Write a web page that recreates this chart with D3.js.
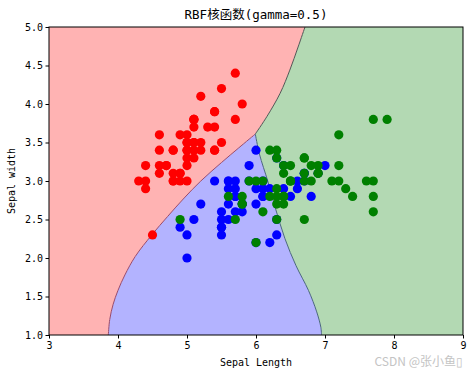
<!DOCTYPE html>
<html>
<head>
<meta charset="utf-8">
<script src="https://cdn.jsdelivr.net/npm/d3@7"></script>
<style>
  body { margin: 0; background: #fff; }
  svg text { font-family: "DejaVu Sans Mono", "Noto Sans CJK SC", monospace; }
</style>
</head>
<body>
<script>
// iris sepal length / width per class
const setosaX = [5.1,4.9,4.7,4.6,5.0,5.4,4.6,5.0,4.4,4.9,5.4,4.8,4.8,4.3,5.8,5.7,5.4,5.1,5.7,5.1,5.4,5.1,4.6,5.1,4.8,5.0,5.0,5.2,5.2,4.7,4.8,5.4,5.2,5.5,4.9,5.0,5.5,4.9,4.4,5.1,5.0,4.5,4.4,5.0,5.1,4.8,5.1,4.6,5.3,5.0];
const setosaY = [3.5,3.0,3.2,3.1,3.6,3.9,3.4,3.4,2.9,3.1,3.7,3.4,3.0,3.0,4.0,4.4,3.9,3.5,3.8,3.8,3.4,3.7,3.6,3.3,3.4,3.0,3.4,3.5,3.4,3.2,3.1,3.4,4.1,4.2,3.1,3.2,3.5,3.6,3.0,3.4,3.5,2.3,3.2,3.5,3.8,3.0,3.8,3.2,3.7,3.3];
const versiX = [7.0,6.4,6.9,5.5,6.5,5.7,6.3,4.9,6.6,5.2,5.0,5.9,6.0,6.1,5.6,6.7,5.6,5.8,6.2,5.6,5.9,6.1,6.3,6.1,6.4,6.6,6.8,6.7,6.0,5.7,5.5,5.5,5.8,6.0,5.4,6.0,6.7,6.3,5.6,5.5,5.5,6.1,5.8,5.0,5.6,5.7,5.7,6.2,5.1,5.7];
const versiY = [3.2,3.2,3.1,2.3,2.8,2.8,3.3,2.4,2.9,2.7,2.0,3.0,2.2,2.9,2.9,3.1,3.0,2.7,2.2,2.5,3.2,2.8,2.5,2.8,2.9,3.0,2.8,3.0,2.9,2.6,2.4,2.4,2.7,2.7,3.0,3.4,3.1,2.3,3.0,2.5,2.6,3.0,2.6,2.3,2.7,3.0,2.9,2.9,2.5,2.8];
const virgX = [6.3,5.8,7.1,6.3,6.5,7.6,4.9,7.3,6.7,7.2,6.5,6.4,6.8,5.7,5.8,6.4,6.5,7.7,7.7,6.0,6.9,5.6,7.7,6.3,6.7,7.2,6.2,6.1,6.4,7.2,7.4,7.9,6.4,6.3,6.1,7.7,6.3,6.4,6.0,6.9,6.7,6.9,5.8,6.8,6.7,6.7,6.3,6.5,6.2,5.9];
const virgY = [3.3,2.7,3.0,2.9,3.0,3.0,2.5,2.9,2.5,3.6,3.2,2.7,3.0,2.5,2.8,3.2,3.0,3.8,2.6,2.2,3.2,2.8,2.8,2.7,3.3,3.2,2.8,3.0,2.8,3.0,2.8,3.8,2.8,2.8,2.6,3.0,3.4,3.1,3.0,3.1,3.1,3.1,2.7,3.2,3.3,3.0,2.5,3.0,3.4,3.0];

// decision boundaries, [sepal length, sepal width]
const redBlueEdge = [[3.86,1.0],[3.88,1.2],[3.93,1.4],[4.0,1.58],[4.1,1.78],[4.25,2.02],[4.49,2.30],[4.72,2.54],[4.96,2.78],[5.2,3.0],[5.5,3.24],[5.75,3.43],[5.99,3.61]];
const redGreenEdge = [[5.99,3.61],[6.16,3.84],[6.35,4.14],[6.49,4.44],[6.61,4.74],[6.71,5.0]];
const blueGreenEdge = [[5.99,3.61],[6.05,3.35],[6.17,3.0],[6.28,2.65],[6.42,2.25],[6.58,1.9],[6.76,1.58],[6.88,1.3],[6.94,1.1],[6.95,1.0]];

const xTicks = [3,4,5,6,7,8,9];
const yTicks = [1.0,1.5,2.0,2.5,3.0,3.5,4.0,4.5,5.0];

const margin = {top: 27, right: 11, bottom: 41, left: 49};
const width = 474, height = 376;

const svg = d3.select("body").append("svg")
    .attr("width", width)
    .attr("height", height);

const x = d3.scaleLinear().domain([3, 9]).range([margin.left, width - margin.right]);
const y = d3.scaleLinear().domain([1, 5]).range([height - margin.bottom, margin.top]);

const curve = d3.line().x(d => x(d[0])).y(d => y(d[1])).curve(d3.curveCatmullRom);
const straight = d3.line().x(d => x(d[0])).y(d => y(d[1]));
const rev = a => a.slice().reverse();
// join several pieces into one path, continuing instead of moving
const join = parts => parts.map((p, i) => i ? p.replace(/^M/, "L") : p).join("") + "Z";

svg.append("defs").append("clipPath").attr("id", "plot")
  .append("rect")
    .attr("x", margin.left).attr("y", margin.top)
    .attr("width", width - margin.left - margin.right)
    .attr("height", height - margin.top - margin.bottom);

const plot = svg.append("g").attr("clip-path", "url(#plot)");

// regions
plot.append("path")
    .attr("d", join([straight([[3,1],[3,5]]), curve(rev(redGreenEdge)), curve(rev(redBlueEdge))]))
    .attr("fill", "#ffb3b3");
plot.append("path")
    .attr("d", join([curve(redBlueEdge), curve(blueGreenEdge)]))
    .attr("fill", "#b3b3ff");
plot.append("path")
    .attr("d", join([straight([[9,5],[9,1]]), curve(rev(blueGreenEdge)), curve(redGreenEdge)]))
    .attr("fill", "#b3d9b3");

plot.append("path").attr("d", curve(redBlueEdge)).attr("fill", "none").attr("stroke", "#9a4a6a").attr("stroke-width", 1);
plot.append("path").attr("d", curve(redGreenEdge)).attr("fill", "none").attr("stroke", "#555").attr("stroke-width", 1);
plot.append("path").attr("d", curve(blueGreenEdge)).attr("fill", "none").attr("stroke", "#4a6680").attr("stroke-width", 1);

// points
const groups = [
  {xs: setosaX, ys: setosaY, color: "#ff0000"},
  {xs: versiX, ys: versiY, color: "#0000ff"},
  {xs: virgX, ys: virgY, color: "#008000"}
];
groups.forEach(g => {
  svg.append("g").selectAll("circle")
    .data(g.xs.map((v, i) => [v, g.ys[i]]))
    .enter().append("circle")
    .attr("cx", d => x(d[0]))
    .attr("cy", d => y(d[1]))
    .attr("r", 4.6)
    .attr("fill", g.color);
});

// frame
svg.append("rect")
    .attr("x", margin.left).attr("y", margin.top)
    .attr("width", width - margin.left - margin.right)
    .attr("height", height - margin.top - margin.bottom)
    .attr("fill", "none").attr("stroke", "#000").attr("stroke-width", 1);

const xAxis = svg.append("g")
    .attr("transform", "translate(0," + (height - margin.bottom) + ")")
    .call(d3.axisBottom(x).tickValues(xTicks).tickFormat(d3.format("d")).tickSizeOuter(0).tickSize(3.5));
const yAxis = svg.append("g")
    .attr("transform", "translate(" + margin.left + ",0)")
    .call(d3.axisLeft(y).tickValues(yTicks).tickFormat(d3.format(".1f")).tickSizeOuter(0).tickSize(3.5));
[xAxis, yAxis].forEach(a => {
  a.select(".domain").remove();
  a.selectAll("text").attr("font-size", "10px").attr("fill", "#000")
    .attr("font-family", "'DejaVu Sans Mono', monospace");
});
xAxis.selectAll("text").attr("dy", "0.75em").attr("y", 6);
yAxis.selectAll("text").attr("x", -6);

// labels
svg.append("text")
    .attr("x", (margin.left + width - margin.right) / 2).attr("y", 19)
    .attr("text-anchor", "middle").attr("font-size", "12.5px")
    .text("RBF核函数(gamma=0.5)");
svg.append("text")
    .attr("x", (margin.left + width - margin.right) / 2).attr("y", 366)
    .attr("text-anchor", "middle").attr("font-size", "10px")
    .text("Sepal Length");
svg.append("text")
    .attr("transform", "translate(15," + ((margin.top + height - margin.bottom) / 2) + ") rotate(-90)")
    .attr("text-anchor", "middle").attr("font-size", "10px")
    .text("Sepal width");

svg.append("text")
    .attr("x", 463).attr("y", 366)
    .attr("text-anchor", "end").attr("font-size", "12px")
    .attr("fill", "#c4c4c4")
    .style("font-family", "'Noto Sans CJK SC', sans-serif")
    .text("CSDN @张小鱼▯");
</script>
</body>
</html>
